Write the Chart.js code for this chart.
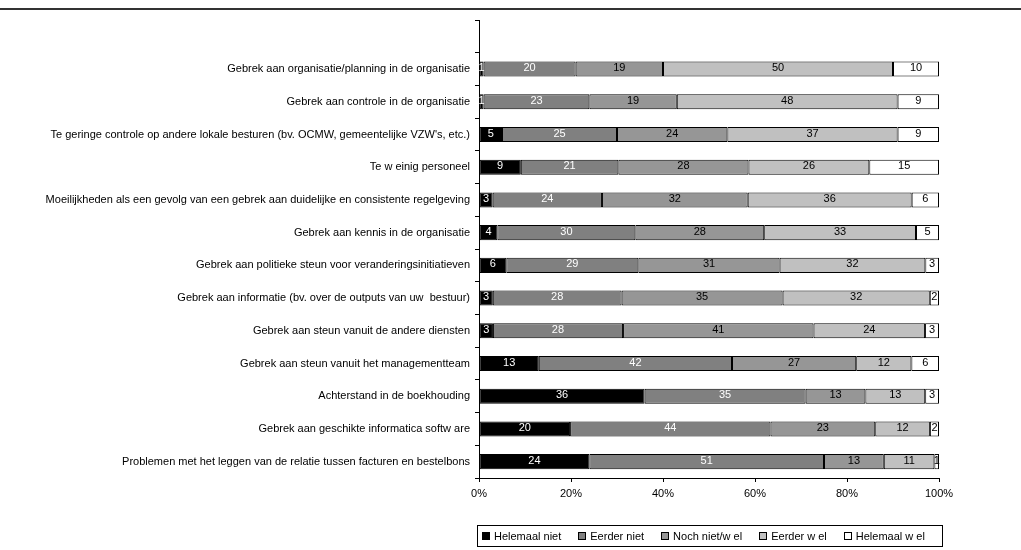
<!DOCTYPE html>
<html>
<head>
<meta charset="utf-8">
<script src="https://cdn.jsdelivr.net/npm/chart.js@4"></script>
<style>
  body { margin: 0; background: #fff; }
  #wrap { position: relative; width: 1021px; height: 550px; }
  #topline { position: absolute; left: 0; top: 8px; width: 1021px; height: 2px; background: #333; }
  #legend { position: absolute; left: 477px; top: 525px; width: 460px; height: 20px; border: 1px solid #000;
    display: flex; align-items: center; justify-content: flex-start; gap: 17px; padding-left: 4px; box-sizing: content-box;
    font: 11px "Liberation Sans", Arial, sans-serif; color: #000; }
  #legend span.box { display: inline-block; width: 6px; height: 6px; border: 1px solid #000; margin-right: 4px; vertical-align: 0px; }
</style>
</head>
<body>
<div id="wrap">
  <canvas id="chart" width="1021" height="550"></canvas>
  <div id="topline"></div>
  <div id="legend"></div>
</div>
<script>
const categories = [
  'Gebrek aan organisatie/planning in de organisatie',
  'Gebrek aan controle in de organisatie',
  "Te geringe controle op andere lokale besturen (bv. OCMW, gemeentelijke VZW's, etc.)",
  'Te w einig personeel',
  'Moeilijkheden als een gevolg van een gebrek aan duidelijke en consistente regelgeving',
  'Gebrek aan kennis in de organisatie',
  'Gebrek aan politieke steun voor veranderingsinitiatieven',
  'Gebrek aan informatie (bv. over de outputs van uw  bestuur)',
  'Gebrek aan steun vanuit de andere diensten',
  'Gebrek aan steun vanuit het managementteam',
  'Achterstand in de boekhouding',
  'Gebrek aan geschikte informatica softw are',
  'Problemen met het leggen van de relatie tussen facturen en bestelbons'
];

const seriesNames = ['Helemaal niet', 'Eerder niet', 'Noch niet/w el', 'Eerder w el', 'Helemaal w el'];

const helemaalNiet = [1, 1, 5, 9, 3, 4, 6, 3, 3, 13, 36, 20, 24];
const eerderNiet   = [20, 23, 25, 21, 24, 30, 29, 28, 28, 42, 35, 44, 51];
const nochNietWel  = [19, 19, 24, 28, 32, 28, 31, 35, 41, 27, 13, 23, 13];
const eerderWel    = [50, 48, 37, 26, 36, 33, 32, 32, 24, 12, 13, 12, 11];
const helemaalWel  = [10, 9, 9, 15, 6, 5, 3, 2, 3, 6, 3, 2, 1];

const xTicks = [0, 20, 40, 60, 80, 100];

const fills = ['#000000', '#808080', '#969696', '#c0c0c0', '#ffffff'];
const labelColors = ['#ffffff', '#ffffff', '#000000', '#000000', '#000000'];

const raw = [helemaalNiet, eerderNiet, nochNietWel, eerderWel, helemaalWel];

// row totals, so every bar fills 100%
const totals = categories.map((c, i) => raw.reduce((s, arr) => s + arr[i], 0));

// empty slot on top, like the original
const labels = [''].concat(categories);

const datasets = raw.map((arr, k) => ({
  label: seriesNames[k],
  data: [null].concat(arr.map((v, i) => v / totals[i] * 100)),
  rawValues: [null].concat(arr),
  backgroundColor: fills[k],
  borderColor: '#000000',
  borderWidth: 1,
  borderSkipped: false,
  inflateAmount: 0,
  categoryPercentage: 1,
  barPercentage: 0.46
}));

const valueLabels = {
  id: 'valueLabels',
  afterDatasetsDraw(chart) {
    const ctx = chart.ctx;
    ctx.save();
    ctx.font = '11px "Liberation Sans", Arial, sans-serif';
    ctx.textAlign = 'center';
    ctx.textBaseline = 'middle';
    chart.data.datasets.forEach((ds, k) => {
      const meta = chart.getDatasetMeta(k);
      meta.data.forEach((el, i) => {
        const v = ds.rawValues[i];
        if (v == null) return;
        const p = el.getProps(['x', 'y', 'base'], true);
        ctx.fillStyle = labelColors[k];
        ctx.fillText(String(v), (p.x + p.base) / 2, p.y - 1);
      });
    });
    ctx.restore();
  }
};

const config = {
  type: 'bar',
  data: { labels: labels, datasets: datasets },
  options: {
    indexAxis: 'y',
    responsive: false,
    animation: false,
    layout: { padding: { top: 20, right: 82, bottom: 0, left: 0 } },
    plugins: {
      legend: { display: false },
      tooltip: { enabled: false }
    },
    scales: {
      x: {
        stacked: true,
        min: 0,
        max: 100,
        afterBuildTicks: (scale) => { scale.ticks = xTicks.map(v => ({ value: v })); },
        afterFit: (scale) => { scale.height = 72; },
        grid: { drawOnChartArea: false, drawTicks: true, tickLength: 4, color: '#000' },
        border: { display: true, color: '#000', width: 1 },
        ticks: {
          padding: 5,
          color: '#000',
          font: { family: '"Liberation Sans", Arial, sans-serif', size: 11 },
          callback: (v) => v + '%'
        }
      },
      y: {
        stacked: true,
        afterFit: (scale) => { scale.width = 479; },
        grid: { drawOnChartArea: false, drawTicks: true, tickLength: 4, color: '#000', offset: true },
        border: { display: true, color: '#000', width: 1 },
        ticks: {
          padding: 5,
          color: '#000',
          autoSkip: false,
          font: { family: '"Liberation Sans", Arial, sans-serif', size: 11 }
        }
      }
    }
  },
  plugins: [valueLabels]
};

const myChart = new Chart(document.getElementById('chart'), config);

// legend below the chart, in a box
const legendEl = document.getElementById('legend');
seriesNames.forEach((name, k) => {
  const item = document.createElement('div');
  item.innerHTML = '<span class="box" style="background:' + fills[k] + '"></span>' + name;
  legendEl.appendChild(item);
});
</script>
</body>
</html>
